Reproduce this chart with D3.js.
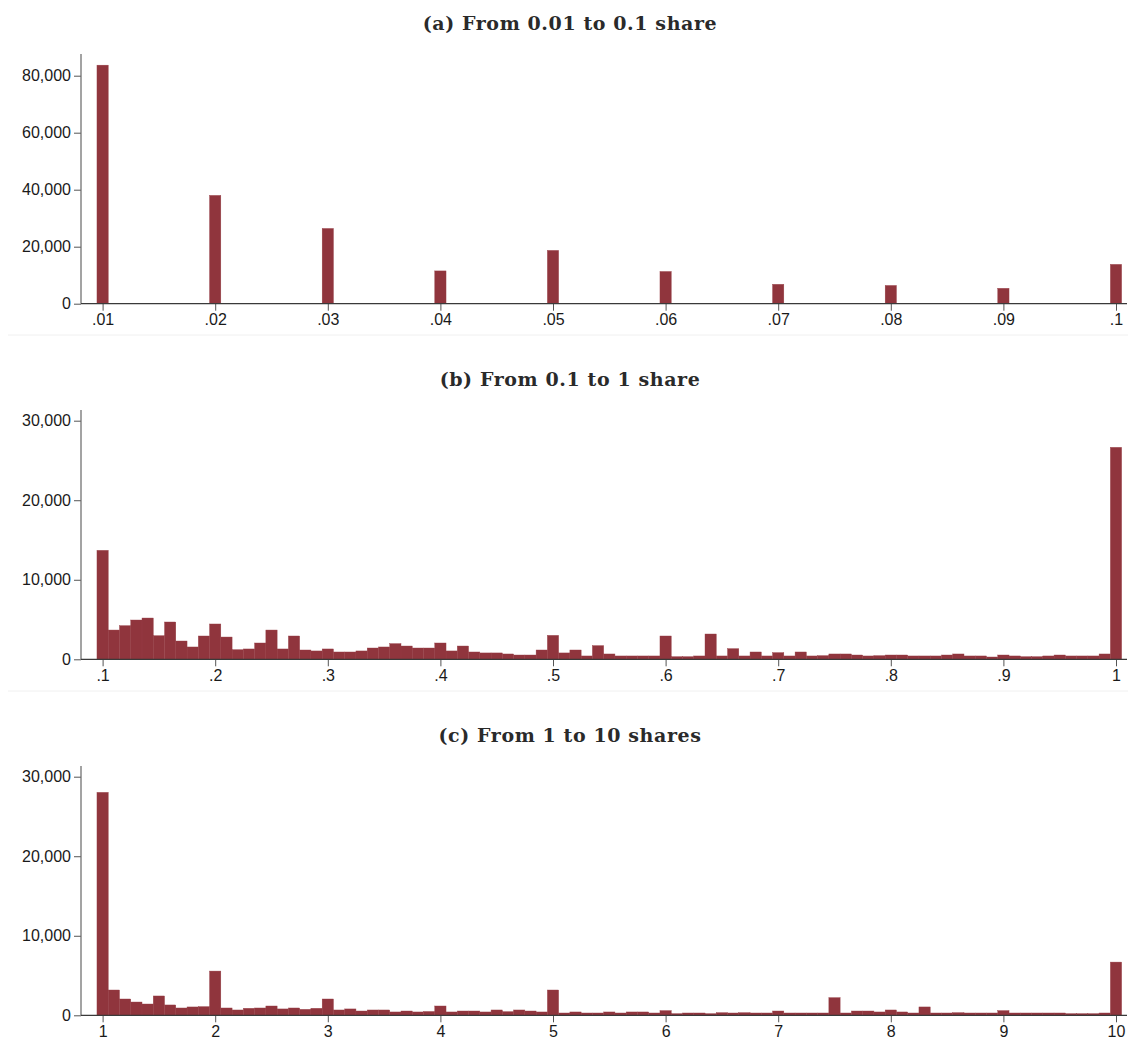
<!DOCTYPE html>
<html>
<head>
<meta charset="utf-8">
<script src="https://cdn.jsdelivr.net/npm/d3@7"></script>
<style>
    body { margin: 0; background: #fff; }
    .panel-title { font-family: 'DejaVu Serif', serif; font-weight: bold; font-size: 19px; letter-spacing: 0.6px; fill: #2a2a2a; }
    .tick text { font-family: 'Liberation Sans', Arial, sans-serif; font-size: 16px; fill: #1a1a1a; }
    .tick line { stroke: #555; }
</style>
</head>
<body>
<div id="chart"></div>
<script>
// panel (a): 0.01 to 0.1 share, bins of .001 at each hundredth
const panelATitle = '(a) From 0.01 to 0.1 share';
const panelACenters = [0.01, 0.02, 0.03, 0.04, 0.05, 0.06, 0.07, 0.08, 0.09, 0.1];
const panelAValues = [83700, 38000, 26400, 11500, 18700, 11300, 6800, 6400, 5400, 13800];
const panelAXTicks = [0.01, 0.02, 0.03, 0.04, 0.05, 0.06, 0.07, 0.08, 0.09, 0.1];
const panelAYTicks = [0, 20000, 40000, 60000, 80000];

// panel (b): 0.1 to 1 share, bins of .01
const panelBTitle = '(b) From 0.1 to 1 share';
const panelBValues = [
    13700, 3680, 4230, 4940, 5190, 2970, 4690, 2300, 1550, 2930,
    4440, 2800, 1210, 1300, 2050, 3680, 1300, 2930, 1170, 1050,
    1300, 920, 920, 1050, 1420, 1550, 1970, 1670, 1420, 1420,
    2050, 1050, 1670, 920, 800, 800, 670, 540, 540, 1170,
    3010, 800, 1170, 420, 1720, 670, 420, 420, 420, 420,
    2930, 330, 330, 420, 3180, 420, 1340, 420, 920, 420,
    840, 420, 920, 420, 460, 670, 670, 540, 420, 460,
    540, 540, 420, 420, 420, 540, 670, 420, 420, 290,
    540, 420, 330, 330, 420, 540, 420, 420, 420, 670,
    26650,
];
const panelBXTicks = [0.1, 0.2, 0.3, 0.4, 0.5, 0.6, 0.7, 0.8, 0.9, 1];
const panelBYTicks = [0, 10000, 20000, 30000];

// panel (c): 1 to 10 shares, bins of .1
const panelCTitle = '(c) From 1 to 10 shares';
const panelCValues = [
    28030, 3180, 2050, 1670, 1420, 2430, 1300, 920, 1050, 1090,
    5560, 920, 670, 880, 920, 1170, 800, 920, 750, 880,
    2050, 670, 800, 540, 670, 670, 420, 540, 420, 480,
    1170, 420, 540, 540, 420, 670, 460, 670, 540, 420,
    3180, 290, 420, 290, 290, 420, 290, 420, 420, 290,
    590, 210, 290, 290, 210, 330, 290, 330, 290, 290,
    540, 290, 290, 290, 290, 2220, 290, 540, 540, 420,
    670, 420, 290, 1050, 290, 290, 330, 290, 290, 290,
    590, 290, 290, 290, 290, 290, 210, 210, 210, 290,
    6690,
];
const panelCXTicks = [1, 2, 3, 4, 5, 6, 7, 8, 9, 10];
const panelCYTicks = [0, 10000, 20000, 30000];

const barColor = '#90353d';
const width = 1128;
const height = 1042;

const svg = d3.select('#chart')
    .append('svg')
    .attr('width', width)
    .attr('height', height);

svg.append('rect')
    .attr('width', width)
    .attr('height', height)
    .attr('fill', '#fff');

const stripZero = (d) => d3.format('~f')(d).replace(/^0\./, '.');

function drawPanel(opts) {
    const g = svg.append('g');
    const left = 81;
    const right = 1127;

    // x: first tick at 102.6px, last at 1116px (same for all panels)
    const x = d3.scaleLinear()
        .domain([opts.xTicks[0], opts.xTicks[opts.xTicks.length - 1]])
        .range([102.6, 1116]);

    const y = d3.scaleLinear()
        .domain([0, opts.yRefValue])
        .range([opts.baseline, opts.yRefPos]);

    g.append('text')
        .attr('class', 'panel-title')
        .attr('x', 570)
        .attr('y', opts.titleY)
        .attr('text-anchor', 'middle')
        .text(opts.title);

    // bars
    g.append('g')
        .selectAll('rect')
        .data(opts.centers.map((c, i) => ({ c, v: opts.values[i] })))
        .enter()
        .append('rect')
        .attr('x', (d) => x(d.c - opts.binWidth / 2))
        .attr('width', (d) => x(d.c + opts.binWidth / 2) - x(d.c - opts.binWidth / 2))
        .attr('y', (d) => y(d.v))
        .attr('height', (d) => y(0) - y(d.v))
        .attr('fill', barColor)
        .attr('stroke', '#963c44')
        .attr('stroke-width', 0.4);

    // y axis
    const yAxis = g.append('g')
        .attr('transform', `translate(${left},0)`)
        .call(d3.axisLeft(y)
            .tickValues(opts.yTicks)
            .tickFormat(d3.format(','))
            .tickSize(7)
            .tickPadding(3)
            .tickSizeOuter(0));
    yAxis.select('.domain').remove();
    g.append('line')
        .attr('x1', left).attr('x2', left)
        .attr('y1', opts.baseline).attr('y2', opts.axisTop)
        .attr('stroke', '#666')
        .attr('stroke-width', 1.2);

    // x axis
    const xAxis = g.append('g')
        .attr('transform', `translate(0,${opts.baseline})`)
        .call(d3.axisBottom(x)
            .tickValues(opts.xTicks)
            .tickFormat(opts.xFormat)
            .tickSize(7)
            .tickPadding(3)
            .tickSizeOuter(0));
    xAxis.select('.domain').remove();
    g.append('line')
        .attr('x1', left).attr('x2', right)
        .attr('y1', opts.baseline).attr('y2', opts.baseline)
        .attr('stroke', '#3a3a3a')
        .attr('stroke-width', 1.2);

    // faint separator under each graph region
    if (opts.sepY) {
        g.append('line')
            .attr('x1', 8).attr('x2', width)
            .attr('y1', opts.sepY).attr('y2', opts.sepY)
            .attr('stroke', '#f0f0f0')
            .attr('stroke-width', 1);
    }
}

drawPanel({
    title: panelATitle,
    titleY: 30,
    centers: panelACenters,
    values: panelAValues,
    binWidth: 0.001,
    xTicks: panelAXTicks,
    yTicks: panelAYTicks,
    xFormat: stripZero,
    baseline: 303.7,
    yRefValue: 80000,
    yRefPos: 75.7,
    axisTop: 54,
    sepY: 335,
});

drawPanel({
    title: panelBTitle,
    titleY: 386,
    centers: d3.range(panelBValues.length).map((i) => +(0.1 + i * 0.01).toFixed(2)),
    values: panelBValues,
    binWidth: 0.01,
    xTicks: panelBXTicks,
    yTicks: panelBYTicks,
    xFormat: stripZero,
    baseline: 659.3,
    yRefValue: 30000,
    yRefPos: 420.7,
    axisTop: 410,
    sepY: 691,
});

drawPanel({
    title: panelCTitle,
    titleY: 742,
    centers: d3.range(panelCValues.length).map((i) => +(1 + i * 0.1).toFixed(1)),
    values: panelCValues,
    binWidth: 0.1,
    xTicks: panelCXTicks,
    yTicks: panelCYTicks,
    xFormat: d3.format('d'),
    baseline: 1015.3,
    yRefValue: 30000,
    yRefPos: 776.7,
    axisTop: 766,
    sepY: null,
});
</script>
</body>
</html>
